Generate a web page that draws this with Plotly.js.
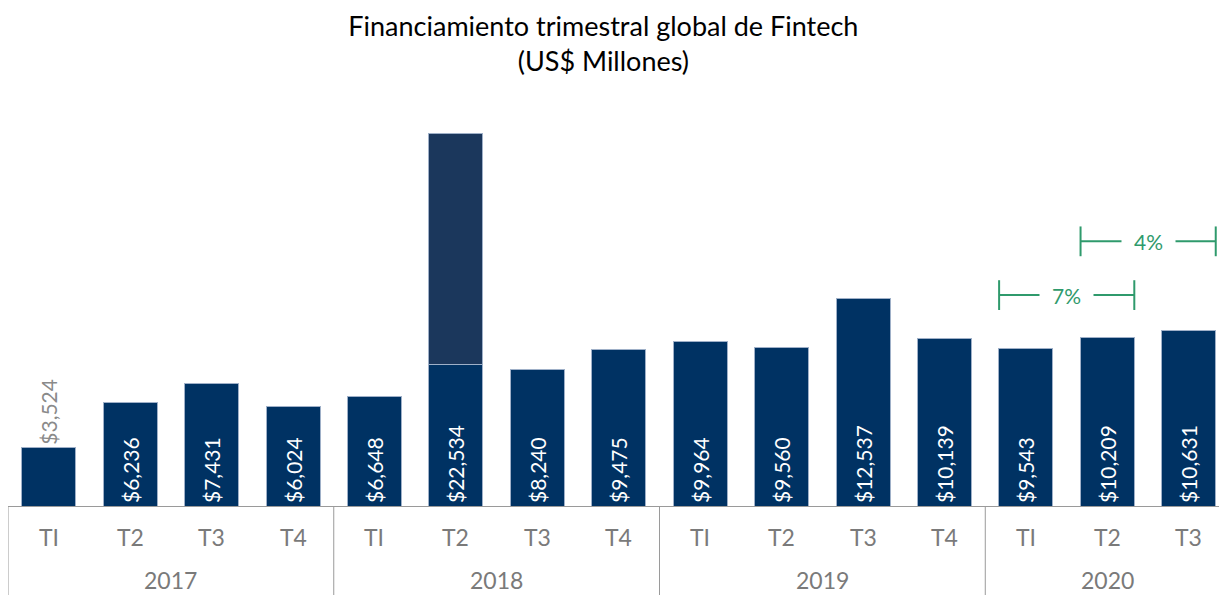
<!DOCTYPE html>
<html>
<head>
<meta charset="utf-8">
<script src="https://cdn.plot.ly/plotly-3.0.1.min.js"></script>
<style>html,body{margin:0;padding:0;background:#fff;}#chart{width:1219px;height:595px;}</style>
</head>
<body>
<div id="chart"></div>
<script>
// Data
const years = ['2017','2017','2017','2017','2018','2018','2018','2018','2019','2019','2019','2019','2020','2020','2020'];
const quarters = ['TI','T2','T3','T4','TI','T2','T3','T4','TI','T2','T3','T4','TI','T2','T3'];
const totals = [3524, 6236, 7431, 6024, 6648, 22534, 8240, 9475, 9964, 9560, 12537, 10139, 9543, 10209, 10631];
// Mega-deal portion (Q2 2018) shown as a darker top segment
const megaDeal = [0, 0, 0, 0, 0, 14000, 0, 0, 0, 0, 0, 0, 0, 0, 0];
const growthLabels = ['7%', '4%'];

const cats = years.map((y, i) => y + ' ' + quarters[i] + ' #' + i);
const baseValues = totals.map((v, i) => v - megaDeal[i]);
const labels = totals.map(v => '$' + v.toLocaleString('en-US'));
const positions = totals.map((v, i) => i === 0 ? 'outside' : 'inside');

const FONT = 'Lato, "Open Sans", sans-serif';
const green = '#2f9a6c';
const gray = '#7a7a7a';
const lineGray = '#9a9a9a';

const trace1 = {
  type: 'bar',
  x: cats,
  y: baseValues,
  text: labels,
  textposition: positions,
  textangle: -90,
  constraintext: 'none',
  insidetextanchor: 'start',
  insidetextfont: {color: '#ffffff', size: 21, family: FONT},
  outsidetextfont: {color: '#8a8a8a', size: 21, family: FONT},
  cliponaxis: false,
  marker: {color: '#003263', line: {color: '#9fb0c8', width: 1}},
  hoverinfo: 'skip'
};
const trace2 = {
  type: 'bar',
  x: cats,
  y: megaDeal.map(v => v === 0 ? null : v),
  marker: {color: '#1b375c', line: {color: '#9fb0c8', width: 1}},
  hoverinfo: 'skip'
};

// bracket helpers
function bracket(i0, i1, yv, label) {
  const a = i0 - 0.33, b = i1 + 0.33, h = 900;
  return {
    shapes: [
      {type: 'line', xref: 'x', yref: 'y', x0: a, x1: b, y0: yv, y1: yv, line: {color: green, width: 2}},
      {type: 'line', xref: 'x', yref: 'y', x0: a, x1: a, y0: yv - h, y1: yv + h, line: {color: green, width: 2}},
      {type: 'line', xref: 'x', yref: 'y', x0: b, x1: b, y0: yv - h, y1: yv + h, line: {color: green, width: 2}}
    ],
    ann: {x: (a + b) / 2, y: yv, xref: 'x', yref: 'y', text: label, showarrow: false,
      font: {color: green, size: 21, family: FONT}, bgcolor: '#ffffff', borderpad: 12}
  };
}
const b1 = bracket(12, 13, 12750, growthLabels[0]);
const b2 = bracket(13, 14, 16000, growthLabels[1]);

// Two-level axis labels
const annotations = [b1.ann, b2.ann];
const shapes = [...b1.shapes, ...b2.shapes];
quarters.forEach((q, i) => {
  annotations.push({x: i, y: -0.078, xref: 'x', yref: 'paper', text: q, showarrow: false,
    xanchor: 'center', yanchor: 'middle', font: {family: FONT, size: 23, color: gray}});
});
const uniqueYears = [...new Set(years)];
uniqueYears.forEach(yr => {
  const idx = years.map((y, i) => y === yr ? i : -1).filter(i => i >= 0);
  const first = idx[0], last = idx[idx.length - 1];
  annotations.push({x: (first + last) / 2, y: -0.186, xref: 'x', yref: 'paper', text: yr, showarrow: false,
    xanchor: 'center', yanchor: 'middle', font: {family: FONT, size: 23, color: gray}});
  shapes.push({type: 'line', xref: 'x', yref: 'paper', x0: first - 0.5, x1: first - 0.5, y0: 0, y1: -0.26,
    line: {color: lineGray, width: 1}});
});

const layout = {
  width: 1219, height: 595,
  margin: {l: 8, r: 0, t: 109, b: 89},
  paper_bgcolor: '#ffffff', plot_bgcolor: '#ffffff',
  showlegend: false,
  barmode: 'stack',
  bargap: 0.337,
  font: {family: FONT},
  title: {
    text: 'Financiamiento trimestral global de Fintech<br>(US$ Millones)',
    font: {family: FONT, size: 27, color: '#000000'},
    x: 0.495, xanchor: 'center', yref: 'container', y: 0.94, yanchor: 'top'
  },
  xaxis: {
    type: 'category',
    range: [-0.5, 14.37],
    showline: true, linecolor: lineGray, linewidth: 1,
    showticklabels: false, ticks: '',
    showgrid: false, zeroline: false
  },
  yaxis: {
    range: [0, 24000], visible: false, showgrid: false, zeroline: false
  },
  shapes: shapes,
  annotations: annotations
};

Plotly.newPlot('chart', [trace1, trace2], layout, {displayModeBar: false, staticPlot: true});
</script>
</body>
</html>
